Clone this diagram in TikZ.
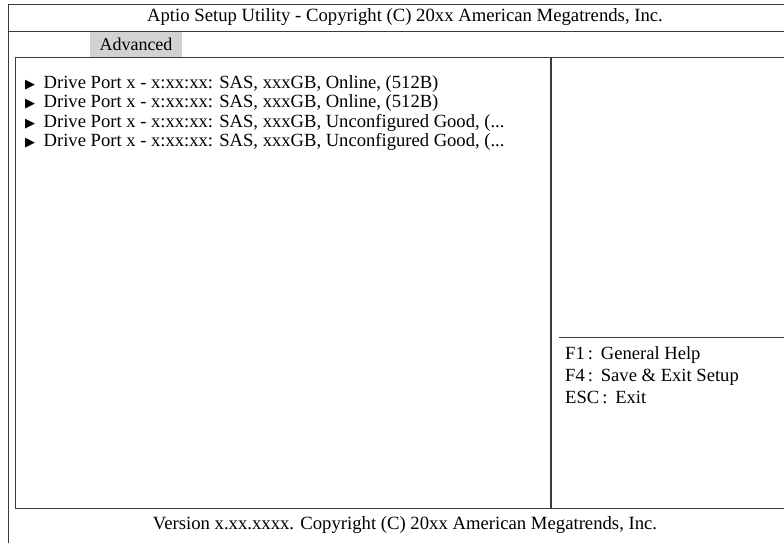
\documentclass[tikz,border=0pt]{standalone}
\usepackage{fontspec}
\setmainfont{Liberation Serif}
\newfontfamily\symfont{DejaVu Sans}
\definecolor{frame}{HTML}{3A3A3A}
\definecolor{tabgray}{HTML}{D2D2D2}
\tikzset{
  frameline/.style={draw=frame, line width=1.5pt},
  titletext/.style={font=\fontsize{18.7}{20}\selectfont, inner sep=0pt},
  bodytext/.style={font=\fontsize{18.6}{20}\selectfont, inner sep=0pt, anchor=base west},
  tabbox/.style={fill=tabgray, inner sep=0pt, minimum width=92pt, minimum height=25pt,
    font=\fontsize{18}{20}\selectfont},
}
\newcommand{\tri}{{\symfont\fontsize{13}{14}\selectfont ▶}\hspace{8.5pt}}
\begin{document}
\begin{tikzpicture}[x=1pt,y=-1pt]
\useasboundingbox (0,0) rectangle (784,542);
% outer frame
\coordinate (otl) at (8.5,4.5);
\coordinate (otr) at (790,4.5);
\coordinate (obl) at (8.5,545);
\coordinate (hl) at (8.5,31.5);
\coordinate (hr) at (790,31.5);
\draw[frameline] (otr) -- (otl) -- (obl);
\draw[frameline] (hl) -- (hr);
% title
\node[titletext] (title) at (405,17.5) {Aptio Setup Utility - Copyright (C) 20xx American Megatrends, Inc.};
% tab
\node[tabbox] (tab) at (136,44.5) {Advanced};
% inner box
\coordinate (itl) at (15.5,57.5);
\coordinate (itr) at (790,57.5);
\coordinate (ibl) at (15.5,508.5);
\coordinate (ibr) at (790,508.5);
\draw[frameline] (itr) -- (itl) -- (ibl) -- (ibr);
\coordinate (vt) at (551,57.5);
\coordinate (vb) at (551,508.5);
\draw[frameline] (vt) -- (vb);
\coordinate (sl) at (559,337.5);
\coordinate (sr) at (790,337.5);
\draw[frameline, line width=1.2pt] (sl) -- (sr);
% drive entries
\node[bodytext] (d1) at (25,88) {\tri Drive Port x - x:xx:xx: SAS, xxxGB, Online, (512B)};
\node[bodytext] (d2) at (25,107.5) {\tri Drive Port x - x:xx:xx: SAS, xxxGB, Online, (512B)};
\node[bodytext] (d3) at (25,127) {\tri Drive Port x - x:xx:xx: SAS, xxxGB, Unconfigured Good, (...};
\node[bodytext] (d4) at (25,146.5) {\tri Drive Port x - x:xx:xx: SAS, xxxGB, Unconfigured Good, (...};
% help
\node[bodytext] (h1) at (565,359) {F1\,:\ \,General Help};
\node[bodytext] (h2) at (565,381) {F4\,:\ \,Save \& Exit Setup};
\node[bodytext] (h3) at (565,403) {ESC\,:\ \,Exit};
% footer
\node[titletext] (foot) at (405,525) {Version x.xx.xxxx. Copyright (C) 20xx American Megatrends, Inc.};
\end{tikzpicture}
\end{document}
